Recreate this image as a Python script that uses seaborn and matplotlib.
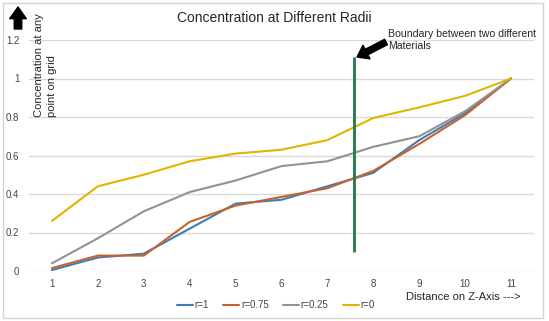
import pandas as pd
import matplotlib.pyplot as plt
import seaborn as sns
from matplotlib.patches import Rectangle

# data
distance = [1, 2, 3, 4, 5, 6, 7, 8, 9, 10, 11]
r_1 = [0.005, 0.07, 0.09, 0.22, 0.35, 0.37, 0.44, 0.51, 0.68, 0.82, 1.0]
r_075 = [0.015, 0.08, 0.08, 0.255, 0.34, 0.385, 0.43, 0.52, 0.66, 0.81, 1.0]
r_025 = [0.04, 0.17, 0.31, 0.41, 0.47, 0.545, 0.57, 0.645, 0.70, 0.83, 1.0]
r_0 = [0.26, 0.44, 0.50, 0.57, 0.61, 0.63, 0.68, 0.795, 0.85, 0.91, 1.0]
series_names = ['r=1', 'r=0.75', 'r=0.25', 'r=0']
colors = ['#3f7cb8', '#c6632b', '#929292', '#dfb500']
boundary_x = 7.58
boundary_y = [0.1, 1.11]

rows = []
for name, vals in zip(series_names, [r_1, r_075, r_025, r_0]):
    for d, v in zip(distance, vals):
        rows.append({'distance': d, 'conc': v, 'series': name})
df = pd.DataFrame(rows)

sns.set_style('white')
plt.rcParams['font.family'] = ['Liberation Sans', 'DejaVu Sans']

fig = plt.figure(figsize=(5.49, 3.21), dpi=100)
ax = fig.add_axes([29/549, 50/321, 505/549, 231/321])

sns.lineplot(data=df, x='distance', y='conc', hue='series', hue_order=series_names,
             palette=colors, linewidth=1.5, ax=ax, legend=False)

ax.vlines(boundary_x, boundary_y[0], boundary_y[1], color='#1f7a45', linewidth=2, zorder=5)

ax.set_xlim(0.5, 11.5)
ax.set_ylim(0, 1.2)
ax.set_xticks(distance)
ax.set_yticks([0, 0.2, 0.4, 0.6, 0.8, 1, 1.2])
ax.set_yticklabels(['0', '0.2', '0.4', '0.6', '0.8', '1', '1.2'])
ax.tick_params(axis='both', length=0, labelsize=7, colors='#444444')
ax.tick_params(axis='y', pad=7)
ax.tick_params(axis='x', pad=6)
ax.grid(axis='y', color='#d9d9d9', linewidth=1)
ax.set_axisbelow(True)
for s in ax.spines.values():
    s.set_visible(False)
ax.set_xlabel('')
ax.set_ylabel('')

# chart frame
fig.patches.append(Rectangle((3/549, 3/321), 540/549, 315/321, transform=fig.transFigure,
                             fill=False, edgecolor='#d4d4d4', linewidth=1))

fig.text(274/549, 1 - 18/321, 'Concentration at Different Radii', fontsize=10,
         ha='center', va='center')
fig.text(45.5/549, 1 - 117/321, 'Concentration at any\npoint on grid', fontsize=8,
         rotation=90, ha='center', va='bottom', multialignment='left', linespacing=1.3)
fig.text(406/549, 1 - 297/321, 'Distance on Z-Axis --->', fontsize=8, ha='left', va='center')
fig.text(388/549, 1 - 29/321, 'Boundary between two different\nMaterials', fontsize=7.6,
         ha='left', va='top', linespacing=1.3)

# arrows
ax.annotate('', xy=(18/549, 1 - 7/321), xytext=(18/549, 1 - 29/321),
            xycoords='figure fraction', textcoords='figure fraction',
            arrowprops=dict(arrowstyle='simple,head_length=0.7,head_width=1.0,tail_width=0.45',
                            color='black', mutation_scale=12, shrinkA=0, shrinkB=0))
ax.annotate('', xy=(357/549, 1 - 57/321), xytext=(386/549, 1 - 42/321),
            xycoords='figure fraction', textcoords='figure fraction',
            arrowprops=dict(arrowstyle='simple,head_length=0.7,head_width=1.0,tail_width=0.4',
                            color='black', mutation_scale=11, shrinkA=0, shrinkB=0))

handles = [plt.Line2D([], [], color=c, linewidth=1.5) for c in colors]
fig.legend(handles, series_names, loc='center', bbox_to_anchor=(276/549, 1 - 305/321),
           ncol=4, frameon=False, fontsize=7, handlelength=1.6, handletextpad=0.2,
           columnspacing=1.5, labelcolor='#444444')

fig.savefig('out.png', dpi=100)
